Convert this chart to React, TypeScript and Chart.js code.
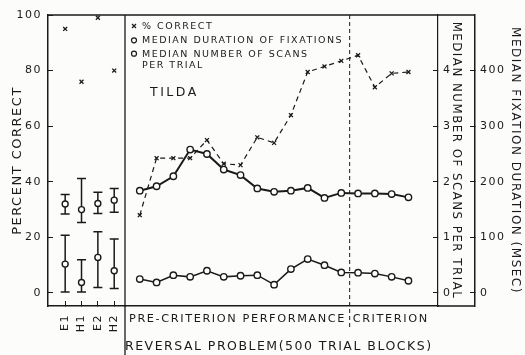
import React, { useEffect, useRef } from 'react';
import { Chart, registerables } from 'chart.js';

Chart.register(...registerables);

// ---------- data ----------
const GROUPS = ['E1', 'H1', 'E2', 'H2'];
const GROUP_POS = [1, 2, 3, 4];
const GROUP_PCT_CORRECT = [95, 76, 99, 80];
const GROUP_FIXATION = [160, 150, 161, 167];
const GROUP_FIXATION_HI = [177, 206, 181, 188];
const GROUP_FIXATION_LO = [142, 127, 143, 145];
const GROUP_SCANS = [0.52, 0.19, 0.64, 0.4];
const GROUP_SCANS_HI = [1.04, 0.6, 1.1, 0.97];
const GROUP_SCANS_LO = [0.02, 0.02, 0.1, 0.08];

const BLOCKS = [1, 2, 3, 4, 5, 6, 7, 8, 9, 10, 11, 12, 13, 14, 15, 16, 17];
const PCT_CORRECT = [28, 48.5, 48.5, 48.5, 55, 46.5, 46, 56, 54, 64, 79.5, 81.5, 83.5, 85.5, 74, 79, 79.5];
const FIXATION_MSEC = [184, 192, 210, 258, 250, 222, 212, 188, 182, 184, 189, 171, 180, 179, 179, 178, 172];
const SCANS = [0.25, 0.19, 0.32, 0.29, 0.4, 0.29, 0.31, 0.32, 0.15, 0.43, 0.61, 0.5, 0.37, 0.365, 0.35, 0.29, 0.22];
const CRITERION_FIRST_BLOCK = 14;

const PCT_TICKS = [0, 20, 40, 60, 80, 100];
const SCAN_TICKS = [0, 1, 2, 3, 4];
const MSEC_TICKS = [0, 100, 200, 300, 400];

const LEGEND_LABELS = ['% CORRECT', 'MEDIAN DURATION OF FIXATIONS', 'MEDIAN NUMBER OF SCANS', 'PER TRIAL'];
const SUBJECT = 'TILDA';
const REGION_LABELS = ['PRE-CRITERION PERFORMANCE', 'CRITERION'];

// ---------- style ----------
const INK = '#1a1a1a';
const FONT = "'DejaVu Sans', sans-serif";

const framePlugin: any = {
  id: 'frame',
  beforeDraw(chart: any) {
    const { ctx, width, height } = chart;
    ctx.save();
    ctx.fillStyle = '#fcfcfb';
    ctx.fillRect(0, 0, width, height);
    ctx.restore();
    ctx.letterSpacing = '1.5px';
  },
  beforeDatasetsDraw(chart: any) {
    const { ctx } = chart;
    const xs = chart.scales.xL;
    const bars = [
      { scale: chart.scales.y3, lo: GROUP_FIXATION_LO, hi: GROUP_FIXATION_HI },
      { scale: chart.scales.y2, lo: GROUP_SCANS_LO, hi: GROUP_SCANS_HI },
    ];
    ctx.save();
    ctx.strokeStyle = INK;
    ctx.lineWidth = 1.5;
    bars.forEach((b) => {
      GROUP_POS.forEach((p, i) => {
        const x = xs.getPixelForValue(p);
        const yt = b.scale.getPixelForValue(b.hi[i]);
        const yb = b.scale.getPixelForValue(b.lo[i]);
        ctx.beginPath();
        ctx.moveTo(x, yt);
        ctx.lineTo(x, yb);
        ctx.moveTo(x - 4.5, yt);
        ctx.lineTo(x + 4.5, yt);
        ctx.moveTo(x - 4.5, yb);
        ctx.lineTo(x + 4.5, yb);
        ctx.stroke();
      });
    });
    ctx.restore();
  },
  afterDraw(chart: any) {
    const { ctx, chartArea: ca, height } = chart;
    const xM = chart.scales.xM;
    const y3 = chart.scales.y3;
    ctx.save();
    ctx.strokeStyle = INK;
    ctx.lineWidth = 1.5;
    ctx.beginPath();
    // top frame
    ctx.moveTo(ca.left, ca.top);
    ctx.lineTo(y3.left, ca.top);
    // bottom frame under the scans axis
    ctx.moveTo(ca.right, ca.bottom);
    ctx.lineTo(y3.left, ca.bottom);
    ctx.stroke();
    // divider between panels
    ctx.lineWidth = 1.3;
    ctx.beginPath();
    ctx.moveTo(xM.left, ca.top);
    ctx.lineTo(xM.left, height);
    ctx.stroke();
    // criterion line
    const cx = xM.getPixelForValue(CRITERION_FIRST_BLOCK - 0.5);
    ctx.lineWidth = 1;
    ctx.setLineDash([4, 3]);
    ctx.beginPath();
    ctx.moveTo(cx, ca.top);
    ctx.lineTo(cx, ca.bottom + 22);
    ctx.stroke();
    ctx.setLineDash([]);

    // legend
    ctx.fillStyle = INK;
    ctx.textAlign = 'left';
    ctx.textBaseline = 'middle';
    ctx.font = `9.5px ${FONT}`;
    ctx.letterSpacing = '1.5px';
    const mx = xM.left + 9;
    const tx = xM.left + 17;
    const rows = [ca.top + 11, ca.top + 25.3, ca.top + 38.7, ca.top + 50.3];
    LEGEND_LABELS.forEach((label, i) => {
      const y = rows[i];
      ctx.lineWidth = 1.2;
      if (i === 0) {
        ctx.beginPath();
        ctx.moveTo(mx - 2, y - 2);
        ctx.lineTo(mx + 2, y + 2);
        ctx.moveTo(mx - 2, y + 2);
        ctx.lineTo(mx + 2, y - 2);
        ctx.stroke();
      } else if (i < 3) {
        ctx.beginPath();
        ctx.arc(mx, y, 2.5, 0, Math.PI * 2);
        ctx.stroke();
      }
      ctx.fillText(label, tx, y + 0.5);
    });

    // subject name
    ctx.font = `12.5px ${FONT}`;
    ctx.letterSpacing = '2.5px';
    ctx.fillText(SUBJECT, xM.left + 25, ca.top + 78);

    // region labels
    ctx.font = `11.3px ${FONT}`;
    ctx.letterSpacing = '1.6px';
    ctx.fillText(REGION_LABELS[0], xM.left + 4, ca.bottom + 13);
    ctx.fillText(REGION_LABELS[1], cx + 3, ca.bottom + 13);
    ctx.restore();
  },
};

const tickFont = { family: FONT, size: 11 };
const fitWidth = (w: number) => (s: any) => {
  s.width = w;
  s.paddingTop = 5;
  s.paddingBottom = 5;
};

export default function App() {
  const ref = useRef<HTMLCanvasElement | null>(null);

  useEffect(() => {
    if (!ref.current) return;
    const pts = (xs: number[], ys: number[]) => xs.map((x, i) => ({ x, y: ys[i] }));
    const chart = new Chart(ref.current, {
      type: 'line',
      data: {
        datasets: [
          {
            label: '% CORRECT',
            data: pts(BLOCKS, PCT_CORRECT),
            xAxisID: 'xM',
            yAxisID: 'y',
            borderColor: INK,
            borderWidth: 1.2,
            borderDash: [5, 4],
            pointStyle: 'crossRot',
            pointRadius: 2.8,
            pointBorderWidth: 1.3,
            pointBorderColor: INK,
          },
          {
            label: 'MEDIAN DURATION OF FIXATIONS',
            data: pts(BLOCKS, FIXATION_MSEC),
            xAxisID: 'xM',
            yAxisID: 'y3',
            borderColor: INK,
            borderWidth: 2,
            pointStyle: 'circle',
            pointRadius: 3.2,
            pointBorderWidth: 1.4,
            pointBorderColor: INK,
            pointBackgroundColor: '#ffffff',
          },
          {
            label: 'MEDIAN NUMBER OF SCANS PER TRIAL',
            data: pts(BLOCKS, SCANS),
            xAxisID: 'xM',
            yAxisID: 'y2',
            borderColor: INK,
            borderWidth: 1.5,
            pointStyle: 'circle',
            pointRadius: 3.2,
            pointBorderWidth: 1.4,
            pointBorderColor: INK,
            pointBackgroundColor: '#ffffff',
          },
          {
            label: '% CORRECT (pre)',
            data: pts(GROUP_POS, GROUP_PCT_CORRECT),
            xAxisID: 'xL',
            yAxisID: 'y',
            showLine: false,
            pointStyle: 'crossRot',
            pointRadius: 2.8,
            pointBorderWidth: 1.3,
            pointBorderColor: INK,
          },
          {
            label: 'FIXATIONS (pre)',
            data: pts(GROUP_POS, GROUP_FIXATION),
            xAxisID: 'xL',
            yAxisID: 'y3',
            showLine: false,
            pointStyle: 'circle',
            pointRadius: 3,
            pointBorderWidth: 1.4,
            pointBorderColor: INK,
            pointBackgroundColor: '#ffffff',
          },
          {
            label: 'SCANS (pre)',
            data: pts(GROUP_POS, GROUP_SCANS),
            xAxisID: 'xL',
            yAxisID: 'y2',
            showLine: false,
            pointStyle: 'circle',
            pointRadius: 3,
            pointBorderWidth: 1.4,
            pointBorderColor: INK,
            pointBackgroundColor: '#ffffff',
          },
        ],
      },
      options: {
        responsive: false,
        animation: false,
        events: [],
        layout: { padding: { top: 15, left: 0, right: 0, bottom: 0 } },
        plugins: { legend: { display: false }, tooltip: { enabled: false } },
        scales: {
          xL: {
            type: 'linear',
            axis: 'x',
            position: 'bottom',
            stack: 'bottomStack',
            stackWeight: 77,
            min: -0.05,
            max: 4.66,
            afterBuildTicks: (s: any) => {
              s.ticks = GROUP_POS.map((v) => ({ value: v }));
            },
            afterFit: (s: any) => {
              s.height = 49;
            },
            grid: { display: true, drawOnChartArea: false, drawTicks: true, tickLength: -5, tickColor: INK, tickWidth: 1 },
            border: { display: true, color: INK, width: 1.5 },
            ticks: {
              autoSkip: false,
              minRotation: 90,
              maxRotation: 90,
              padding: 13,
              color: INK,
              font: tickFont,
              callback: (v: any) => {
                const i = GROUP_POS.indexOf(Number(v));
                return i >= 0 ? GROUPS[i] : '';
              },
            },
          },
          xM: {
            type: 'linear',
            axis: 'x',
            position: 'bottom',
            stack: 'bottomStack',
            stackWeight: 313,
            min: 0.12,
            max: 18.76,
            afterFit: (s: any) => {
              s.height = 49;
            },
            grid: { display: false },
            border: { display: true, color: INK, width: 1.5 },
            ticks: { display: false },
            title: {
              display: true,
              text: 'REVERSAL PROBLEM(500 TRIAL BLOCKS)',
              align: 'start',
              color: INK,
              font: { family: FONT, size: 12.5 },
              padding: { top: 0, bottom: 1 },
            },
          },
          y: {
            type: 'linear',
            position: 'left',
            min: -4.68,
            max: 100,
            afterBuildTicks: (s: any) => {
              s.ticks = PCT_TICKS.map((v) => ({ value: v }));
            },
            afterFit: fitWidth(48),
            grid: { display: true, drawOnChartArea: false, drawTicks: true, tickLength: -5, tickColor: INK },
            border: { display: true, color: INK, width: 1.5 },
            ticks: { padding: 11, color: INK, font: tickFont },
            title: {
              display: true,
              text: 'PERCENT CORRECT',
              color: INK,
              font: { family: FONT, size: 13 },
              padding: { top: 10, bottom: 0 },
            },
          },
          y2: {
            type: 'linear',
            position: 'right',
            min: -0.234,
            max: 5,
            afterBuildTicks: (s: any) => {
              s.ticks = SCAN_TICKS.map((v) => ({ value: v }));
            },
            afterFit: fitWidth(37),
            grid: { display: true, drawOnChartArea: false, drawTicks: true, tickLength: -5, tickColor: INK },
            border: { display: true, color: INK, width: 1.2, dash: [6, 3, 1, 3] },
            ticks: { padding: 10, color: INK, font: tickFont },
            title: {
              display: true,
              text: 'MEDIAN NUMBER OF SCANS PER TRIAL',
              color: INK,
              font: { family: FONT, size: 11.8 },
              padding: { top: 12, bottom: 0 },
            },
          },
          y3: {
            type: 'linear',
            position: 'right',
            min: -23.4,
            max: 500,
            afterBuildTicks: (s: any) => {
              s.ticks = MSEC_TICKS.map((v) => ({ value: v }));
            },
            afterFit: fitWidth(50),
            grid: { display: true, drawOnChartArea: false, drawTicks: true, tickLength: -5, tickColor: INK },
            border: { display: true, color: INK, width: 1.5 },
            ticks: { padding: 10, color: INK, font: tickFont },
            title: {
              display: true,
              text: 'MEDIAN FIXATION DURATION (MSEC)',
              color: INK,
              font: { family: FONT, size: 12 },
              padding: { top: 3, bottom: 0 },
            },
          },
        },
      } as any,
      plugins: [framePlugin],
    } as any);
    return () => chart.destroy();
  }, []);

  return (
    <div style={{ position: 'absolute', left: 0, top: 0, width: 525, height: 355, background: '#fcfcfb' }}>
      <canvas ref={ref} width={525} height={355} style={{ display: 'block', width: 525, height: 355 }} />
    </div>
  );
}
